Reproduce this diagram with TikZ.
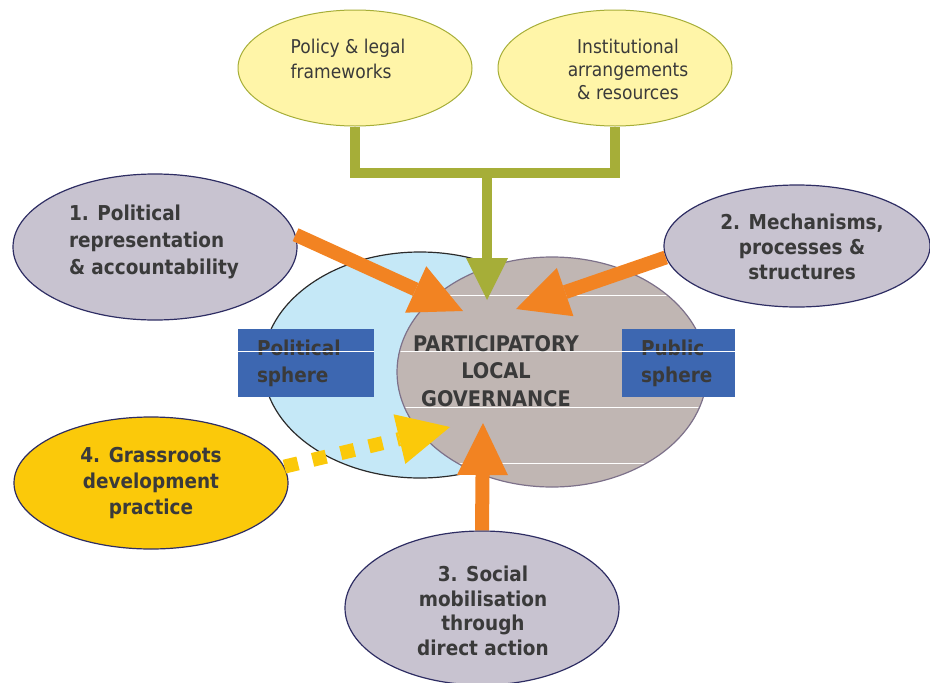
\documentclass[tikz,border=0pt]{standalone}
\usepackage{fontspec}
\setmainfont{DejaVu Sans Condensed}
\usepackage{xcolor}
\usepackage{tikz}
\usetikzlibrary{shapes.geometric,arrows.meta}

\definecolor{txt}{HTML}{3A3A3A}
\definecolor{paleyellow}{HTML}{FFF5A8}
\definecolor{leafgreen}{HTML}{A6AE38}
\definecolor{lilac}{HTML}{C8C3D0}
\definecolor{navyline}{HTML}{2E2D63}
\definecolor{skyblue}{HTML}{C5E8F7}
\definecolor{darkline}{HTML}{2B2B2B}
\definecolor{taupe}{HTML}{C0B6B3}
\definecolor{taupeline}{HTML}{7D718A}
\definecolor{boxblue}{HTML}{3D67B1}
\definecolor{arroworange}{HTML}{F28322}
\definecolor{gold}{HTML}{FBC90A}

\tikzset{
  oval/.style={ellipse, draw=navyline, fill=lilac, line width=1.2pt, inner sep=0pt},
  paleoval/.style={ellipse, draw=leafgreen, fill=paleyellow, line width=1pt, inner sep=0pt},
  area/.style={ellipse, line width=1.2pt, inner sep=0pt},
  boldtext/.style={text=txt, align=center, font=\bfseries\fontsize{20.5}{25}\selectfont},
  lighttext/.style={text=txt, align=center, font=\fontsize{19}{24}\selectfont},
  spherebox/.style={fill=boxblue, minimum height=68pt, inner sep=0pt, align=left, text=txt, font=\bfseries\fontsize{20.5}{27}\selectfont},
  push/.style={arroworange, line width=14pt, -{Triangle[width=51pt,length=52pt,line width=0pt]}},
  feed/.style={leafgreen, line width=10pt},
}

\begin{document}
\begin{tikzpicture}[x=1pt,y=-1pt]
\useasboundingbox (0,0) rectangle (930,683);

\node[area, draw=darkline, fill=skyblue, minimum width=314pt, minimum height=226pt] (politicalarea) at (420,365) {};
\node[area, draw=taupeline, fill=taupe, minimum width=310pt, minimum height=230pt] (publicarea) at (552,372) {};
\begin{scope}
  \clip (publicarea.center) ellipse (154pt and 114pt);
  \foreach \y in {295,351,407,463}
    \draw[white, line width=1pt] (380,\y) -- (720,\y);
\end{scope}

\node[spherebox, minimum width=136pt, text width=98pt] (political) at (306,363) {Political\\sphere};
\node[spherebox, minimum width=113pt, text width=75pt] (public) at (678.5,363) {Public\\sphere};
\draw[white, line width=1pt] (political.west |- 0,351) -- (political.east |- 0,351);
\draw[white, line width=1pt] (public.west |- 0,351) -- (public.east |- 0,351);

\node[boldtext, font=\bfseries\fontsize{21.5}{27.5}\selectfont] (plg) at (496,371) {PARTICIPATORY\\LOCAL\\GOVERNANCE};

\node[paleoval, minimum width=234pt, minimum height=116pt] (policy) at (355,68) {};
\node[paleoval, minimum width=234pt, minimum height=116pt] (institutions) at (615,68) {};
\node[lighttext, align=left, font=\fontsize{19}{25}\selectfont] (policytext) at (348,58.5) {Policy \& legal\\frameworks};
\node[lighttext, font=\fontsize{19}{23}\selectfont] (institutionstext) at (628,69) {Institutional\\arrangements\\\& resources};

\node[oval, minimum width=284pt, minimum height=146pt] (accountability) at (155,247) {};
\node[oval, minimum width=266pt, minimum height=122pt] (mechanisms) at (797,246) {};
\node[oval, minimum width=274pt, minimum height=154pt] (mobilisation) at (482,608) {};
\node[oval, fill=gold, minimum width=274pt, minimum height=132pt] (grassroots) at (151,483) {};

\node[boldtext, align=left, font=\bfseries\fontsize{20.5}{27}\selectfont] (accountabilitytext) at (154,242) {1. Political\\representation\\\& accountability};
\node[boldtext] (mechanismstext) at (802,247) {2. Mechanisms,\\processes \&\\structures};
\node[boldtext, font=\bfseries\fontsize{20.5}{24.5}\selectfont] (mobilisationtext) at (483,611) {3. Social\\mobilisation\\through\\direct action};
\node[boldtext, font=\bfseries\fontsize{20.5}{26}\selectfont] (grassrootstext) at (151,483) {4. Grassroots\\development\\practice};

\coordinate (join) at (487,173);
\coordinate (t0) at (487,300);
\coordinate (t1) at (463,311);
\coordinate (t2) at (516,309);
\coordinate (t3) at (483,423);
\coordinate (t4) at (450,427);

\draw[feed] (policy.south) |- (join) -| (institutions.south);
\draw[feed, -{Triangle[width=42pt,length=42pt,line width=0pt]}] (join) -- (t0);

\draw[push] (accountability.5) -- (t1);
\draw[push] (mechanisms.185) -- (t2);
\draw[push] (mobilisation.north) -- (t3);
\draw[gold, line width=14pt, dash pattern=on 14pt off 15pt, -{Triangle[width=51pt,length=52pt,line width=0pt]}] (grassroots.7) -- (t4);
\end{tikzpicture}
\end{document}
